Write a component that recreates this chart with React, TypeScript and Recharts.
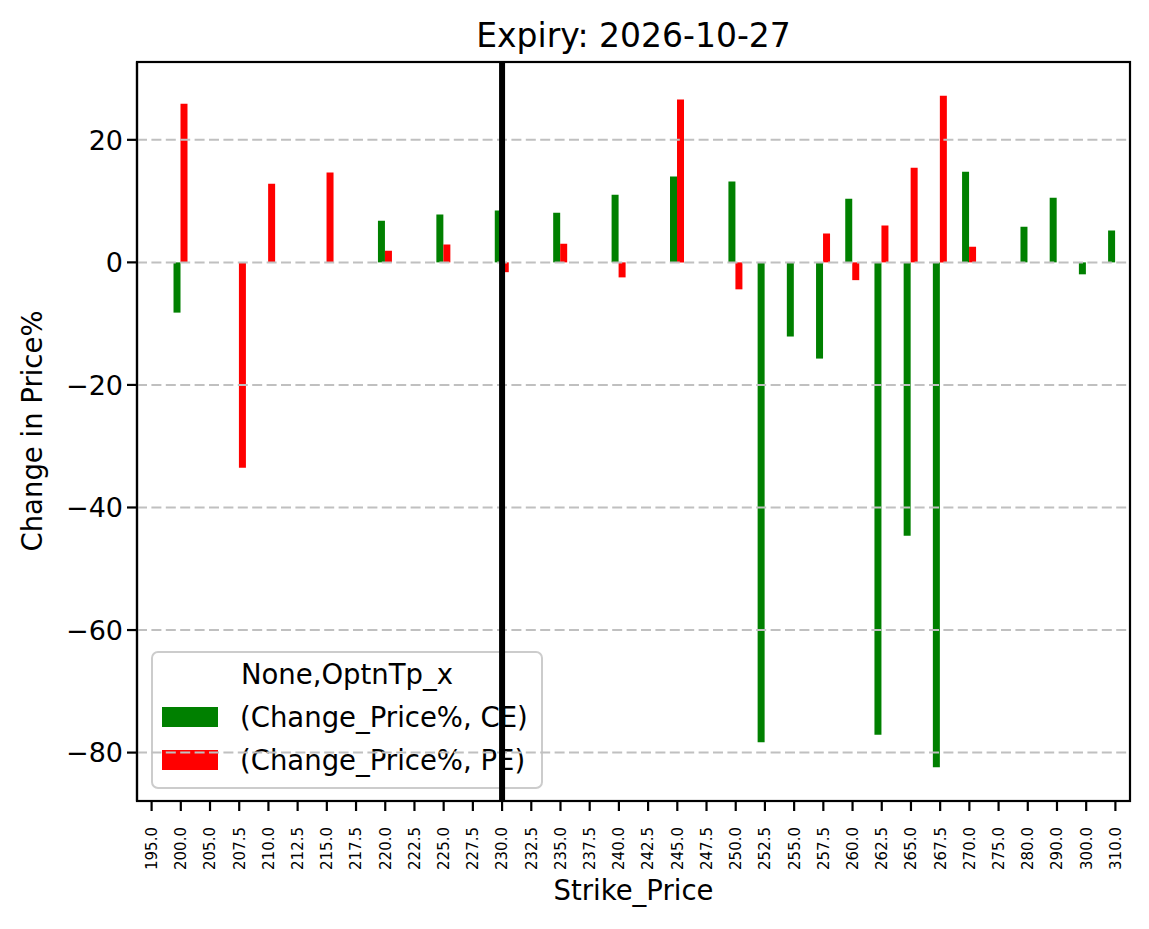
import React from "react";
import { BarChart, Bar, XAxis, YAxis, ReferenceLine, Customized } from "recharts";

const strikes = [
  "195.0", "200.0", "205.0", "207.5", "210.0", "212.5", "215.0", "217.5", "220.0", "222.5",
  "225.0", "227.5", "230.0", "232.5", "235.0", "237.5", "240.0", "242.5", "245.0", "247.5",
  "250.0", "252.5", "255.0", "257.5", "260.0", "262.5", "265.0", "267.5", "270.0", "275.0",
  "280.0", "290.0", "300.0", "310.0",
];

// (Change_Price%, CE)
const ceChange = [
  null, -8.2, null, null, null, null, null, null, 6.8, null,
  7.8, null, 8.45, null, 8.1, null, 11.05, null, 14.0, null,
  13.2, -78.3, -12.1, -15.7, 10.4, -77.1, -44.6, -82.4, 14.8, null,
  5.8, 10.55, -1.95, 5.2,
];

// (Change_Price%, PE)
const peChange = [
  null, 25.9, null, -33.5, 12.85, null, 14.65, null, 1.9, null,
  2.9, null, -1.6, null, 3.05, null, -2.45, null, 26.6, null,
  -4.4, null, null, 4.7, -2.9, 6.0, 15.45, 27.2, 2.55, null,
  null, null, null, null,
];

const yTicks = [-80, -60, -40, -20, 0, 20];
const spotStrike = "230.0";
const seriesNames = ["(Change_Price%, CE)", "(Change_Price%, PE)"];
const seriesColors = ["#008000", "#ff0000"];

const data = strikes.map((s, i) => ({ strike: s, CE: ceChange[i], PE: peChange[i] }));

const FONT = "DejaVu Sans, sans-serif";

const fmtY = (v: number) => (v < 0 ? "\u2212" + Math.abs(v) : String(v));

const XTick = (props: any) => {
  const { x, y, payload } = props;
  const ty = y + 14;
  return (
    <text
      x={x}
      y={ty}
      transform={`rotate(-90 ${x} ${ty})`}
      textAnchor="end"
      dy="0.36em"
      fontSize={15}
      fontFamily={FONT}
      fill="#000"
    >
      {payload.value}
    </text>
  );
};

const YTick = (props: any) => {
  const { x, y, payload } = props;
  return (
    <text x={x - 2} y={y} textAnchor="end" dy="0.36em" fontSize={27} fontFamily={FONT} fill="#000">
      {fmtY(payload.value)}
    </text>
  );
};

const Overlay = () => (
  <g fontFamily={FONT} fill="#000">
    {/* axes frame */}
    <rect x={137} y={62} width={993} height={739} fill="none" stroke="#000" strokeWidth={2.2} />
    <text x={633.5} y={47} textAnchor="middle" fontSize={33}>
      Expiry: 2026-10-27
    </text>
    <text x={633.5} y={900} textAnchor="middle" fontSize={27.5}>
      Strike_Price
    </text>
    <text x={42} y={431} transform="rotate(-90 42 431)" textAnchor="middle" fontSize={27.5}>
      Change in Price%
    </text>
    <rect x={152} y={652} width={390} height={136} rx={6} fill="#fff" fillOpacity={0.8} stroke="#cccccc" strokeWidth={2} />
    <text x={347} y={684} textAnchor="middle" fontSize={27.5}>
      None,OptnTp_x
    </text>
    {seriesNames.map((name, i) => (
      <g key={name}>
        <rect x={162} y={707 + i * 43} width={56} height={20} fill={seriesColors[i]} />
        <text x={240} y={727 + i * 43} fontSize={27.5}>
          {name}
        </text>
      </g>
    ))}
  </g>
);

export default function App() {
  return (
    <div style={{ position: "absolute", left: 0, top: 0, width: 1149, height: 929, background: "#fff" }}>
      <BarChart
        width={1149}
        height={929}
        data={data}
        margin={{ top: 62, right: 19, bottom: 28, left: 37 }}
        barCategoryGap="25%"
        barGap={0}
      >
        <XAxis
          dataKey="strike"
          interval={0}
          height={100}
          tick={<XTick />}
          tickSize={10}
          axisLine={{ stroke: "#000", strokeWidth: 2.2 }}
          tickLine={{ stroke: "#000", strokeWidth: 2.2 }}
        />
        <YAxis
          width={100}
          domain={[-87.9, 32.7]}
          allowDataOverflow
          ticks={yTicks}
          tick={<YTick />}
          tickSize={10}
          axisLine={{ stroke: "#000", strokeWidth: 2.2 }}
          tickLine={{ stroke: "#000", strokeWidth: 2.2 }}
        />
        <Bar dataKey="CE" name={seriesNames[0]} fill={seriesColors[0]} isAnimationActive={false} />
        <Bar dataKey="PE" name={seriesNames[1]} fill={seriesColors[1]} isAnimationActive={false} />
        {yTicks.map((t) => (
          <ReferenceLine key={t} y={t} stroke="#c0c0c0" strokeWidth={2} strokeDasharray="10 4.4" />
        ))}
        <Customized component={<Overlay />} />
        <ReferenceLine x={spotStrike} stroke="#000" strokeWidth={6} />
      </BarChart>
    </div>
  );
}
